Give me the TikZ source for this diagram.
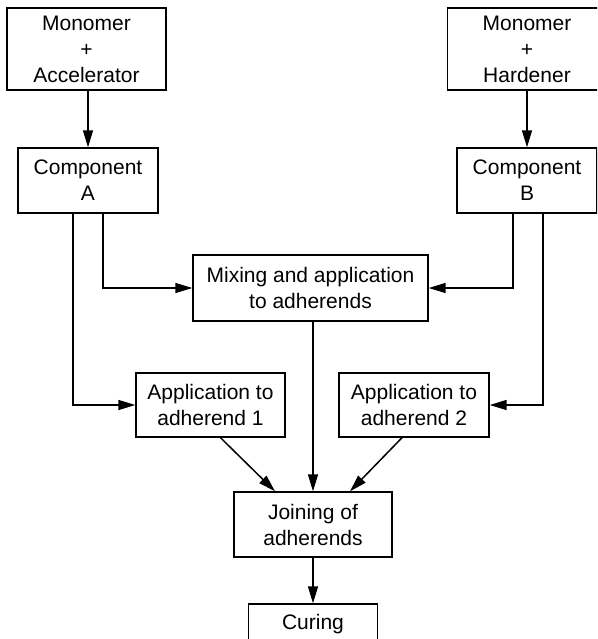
\documentclass[tikz,border=0pt]{standalone}
\usepackage{fontspec}
\setmainfont{Liberation Sans}
\usetikzlibrary{arrows.meta}

\tikzset{
    blockbox/.style={draw, line width=1.4pt, align=center, inner sep=0pt,
        font=\fontsize{21}{26}\selectfont},
    flow/.style={line width=1.5pt, -{Triangle[length=17pt,width=10pt]}},
}

\begin{document}
\begin{tikzpicture}[x=1pt,y=-1pt]
        \clip (0,0) rectangle (597,639);

        % starting materials
        \node[blockbox, minimum width=159pt, minimum height=82pt]
            (monoacc) at (86.5,49) {Monomer\\+\\Accelerator};
        \node[blockbox, minimum width=159pt, minimum height=82pt]
            (monohard) at (527,49) {Monomer\\+\\Hardener};

        % components
        \node[blockbox, minimum width=140pt, minimum height=65pt]
            (compA) at (88,180.5) {Component\\A};
        \node[blockbox, minimum width=140pt, minimum height=65pt]
            (compB) at (527,180.5) {Component\\B};

        % application
        \node[blockbox, minimum width=235pt, minimum height=66pt]
            (mixing) at (310.5,288) {Mixing and application\\to adherends};
        \node[blockbox, minimum width=149pt, minimum height=64pt]
            (appone) at (210.5,405) {Application to\\adherend 1};
        \node[blockbox, minimum width=150pt, minimum height=64pt]
            (apptwo) at (414,405) {Application to\\adherend 2};

        \node[blockbox, minimum width=158pt, minimum height=65pt]
            (joining) at (313,524.5) {Joining of\\adherends};
        \node[blockbox, minimum width=129pt, minimum height=40pt]
            (curing) at (313,624) {Curing};

        \draw[flow] (compA.north |- monoacc.south) -- (compA.north);
        \draw[flow] (monohard.south) -- (compB.north);

        \draw[flow] ([xshift=15pt]compA.south) |- (mixing.west);
        \draw[flow] ([xshift=-15pt]compA.south) |- (appone.west);
        \draw[flow] ([xshift=-14pt]compB.south) |- (mixing.east);
        \draw[flow] ([xshift=16pt]compB.south) |- (apptwo.east);

        \draw[flow] (joining.north |- mixing.south) -- (joining.north);
        \draw[flow] ([xshift=10pt]appone.south) -- ([xshift=-38pt]joining.north);
        \draw[flow] ([xshift=-12pt]apptwo.south) -- ([xshift=37pt]joining.north);
        \draw[flow] (joining.south) -- (curing.north);
    \end{tikzpicture}
\end{document}
